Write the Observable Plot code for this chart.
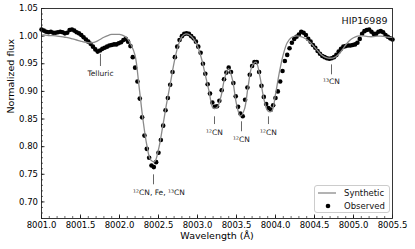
<!DOCTYPE html>
<html>
<head>
<meta charset="utf-8">
<script src="https://cdn.jsdelivr.net/npm/d3@7"></script>
<script src="https://cdn.jsdelivr.net/npm/@observablehq/plot@0.6"></script>
<style>
  html, body { margin: 0; padding: 0; background: white; }
  #wrap { position: relative; width: 415px; height: 249px; font-family: "DejaVu Sans", sans-serif; }
  #legend { position: absolute; left: 314px; top: 185px; width: 74px; height: 26px; border: 1px solid #cccccc; border-radius: 3px; background: rgba(255,255,255,0.85); font-size: 8.5px; color: #111; }
  #legend .row { position: absolute; left: 0; height: 12px; width: 74px; }
  #legend .sym { position: absolute; left: 3px; width: 18px; height: 12px; }
  #legend .lab { position: absolute; left: 29px; top: 0; line-height: 12px; }
</style>
</head>
<body>
<div id="wrap"></div>
<script>
// ---- data ----
const obsStart = 8001.0;
const obsStep = 0.03;
const observedFlux = [
 1.012,1.010,1.008,1.007,1.008,1.006,1.006,1.007,1.008,1.007,
 1.005,1.006,1.011,1.012,1.010,1.007,1.005,1.002,0.998,0.994,
 0.990,0.986,0.981,0.976,0.972,0.974,0.977,0.979,0.981,0.983,
 0.984,0.985,0.985,0.987,0.989,0.993,0.995,0.990,0.982,0.962,
 0.943,0.918,0.887,0.853,0.820,0.796,0.780,0.766,0.763,0.772,
 0.789,0.812,0.838,0.866,0.888,0.912,0.935,0.962,0.981,0.993,
 1.000,1.004,1.005,1.004,1.000,0.996,0.990,0.981,0.970,0.950,
 0.932,0.913,0.896,0.880,0.872,0.873,0.883,0.902,0.922,0.934,
 0.943,0.935,0.915,0.891,0.872,0.860,0.855,0.885,0.907,0.930,
 0.946,0.953,0.953,0.935,0.910,0.890,0.877,0.870,0.867,0.875,
 0.888,0.900,0.918,0.937,0.955,0.966,0.978,0.988,0.995,0.999,
 1.003,1.008,1.006,1.002,0.995,0.990,0.984,0.979,0.973,0.968,
 0.964,0.962,0.960,0.959,0.960,0.962,0.966,0.972,0.977,0.981,
 0.982,0.983,0.983,0.984,0.985,0.988,0.995,1.004,1.009,1.011,
 1.012,1.008,1.004,1.004,1.008,1.009,1.007,1.002,0.999,0.996,
 0.994
];
const synStart = 8001.0;
const synStep = 0.05;
const syntheticFlux = [
 1.002,1.002,1.001,1.001,1.000,0.999,0.998,0.997,0.995,0.993,
 0.991,0.989,0.988,0.988,0.990,0.994,0.998,1.001,1.003,1.003,
 1.003,1.001,0.996,0.984,0.965,0.910,0.850,0.803,0.776,0.773,
 0.795,0.833,0.875,0.913,0.952,0.982,0.999,1.004,1.002,0.995,
 0.982,0.960,0.930,0.899,0.870,0.871,0.890,0.925,0.941,0.920,
 0.877,0.855,0.867,0.910,0.946,0.953,0.927,0.887,0.865,0.864,
 0.895,0.935,0.967,0.988,0.997,1.000,1.000,0.998,0.994,0.988,
 0.980,0.972,0.965,0.961,0.960,0.961,0.966,0.974,0.984,0.992,
 0.997,1.000,1.001,1.000,0.999,0.999,1.000,1.000,0.999,0.998,
 0.998
];
const xTicks = [8001.0, 8001.5, 8002.0, 8002.5, 8003.0, 8003.5, 8004.0, 8004.5, 8005.0, 8005.5];
const yTicks = [0.70, 0.75, 0.80, 0.85, 0.90, 0.95, 1.00, 1.05];
const annLabels = ["Telluric", "¹²CN, Fe, ¹³CN", "¹²CN", "¹²CN", "¹²CN", "¹³CN"];
const annX      = [8001.756, 8002.436, 8003.218, 8003.564, 8003.910, 8004.718];
const annTextX  = [8001.756, 8002.506, 8003.218, 8003.564, 8003.910, 8004.718];
const annTop    = [0.967, 0.749, 0.854, 0.845, 0.854, 0.948];
const annBottom = [0.945, 0.731, 0.840, 0.827, 0.840, 0.930];
const annTextY  = [0.932, 0.716, 0.825, 0.812, 0.825, 0.918];
const starName = "HIP16989";
const xLabel = "Wavelength (Å)";
const yLabel = "Normalized flux";

// ---- tables ----
const observed = observedFlux.map((f, i) => ({w: obsStart + i * obsStep, f}));
const synthetic = syntheticFlux.map((f, i) => ({w: synStart + i * synStep, f}));
const ann = annLabels.map((label, i) => ({label, x: annX[i], tx: annTextX[i], top: annTop[i], bottom: annBottom[i], ty: annTextY[i]}));
const xMinor = d3.range(80010, 80055.5, 1).map(d => d / 10);
const yMinor = d3.range(67, 105.5, 1).map(d => d / 100);

const chart = Plot.plot({
  width: 415, height: 249,
  marginTop: 8, marginRight: 23, marginBottom: 31, marginLeft: 41,
  style: {fontFamily: "DejaVu Sans", fontSize: "8.5px", color: "black", background: "white", overflow: "visible"},
  x: {domain: [8001.0, 8005.5]},
  y: {domain: [0.67, 1.05]},
  marks: [
    Plot.axisX(xTicks, {tickSize: 0, tickPadding: 3.5, tickFormat: d => d.toFixed(1), label: null, fontSize: 8.5}),
    Plot.axisX(xTicks, {tickSize: 3.5, dy: -3.5, fill: "none", label: null, strokeWidth: 0.8}),
    Plot.axisX(xMinor, {tickSize: 2, dy: -2, fill: "none", label: null, strokeWidth: 0.6}),
    Plot.axisY(yTicks, {tickSize: 0, tickPadding: 3.5, tickFormat: d => d.toFixed(2), label: null, fontSize: 8.5}),
    Plot.axisY(yTicks, {tickSize: 3.5, dx: 3.5, fill: "none", label: null, strokeWidth: 0.8}),
    Plot.axisY(yMinor, {tickSize: 2, dx: 2, fill: "none", label: null, strokeWidth: 0.6}),
    Plot.text([xLabel], {frameAnchor: "bottom", dy: 20, fontSize: 9.5, fill: "black"}),
    Plot.text([yLabel], {frameAnchor: "left", dx: -31, rotate: -90, fontSize: 9.5, fill: "black"}),
    Plot.dot(observed, {x: "w", y: "f", r: 2.3, fill: "black", stroke: "none"}),
    Plot.line(synthetic, {x: "w", y: "f", stroke: "#8a8a8a", strokeWidth: 1.3, curve: "catmull-rom"}),
    Plot.ruleX(ann, {x: "x", y1: "top", y2: "bottom", stroke: "#555", strokeWidth: 0.9}),
    Plot.text(ann, {x: "tx", y: "ty", text: "label", fontSize: 7.5, fill: "#222"}),
    Plot.text([starName], {frameAnchor: "top-right", dx: -5, dy: 9, fontSize: 9.5, fill: "#111"}),
    Plot.frame({stroke: "#222", strokeWidth: 0.9})
  ]
});
document.getElementById("wrap").appendChild(chart);

// legend (HTML overlay)
const legend = document.createElement("div");
legend.id = "legend";
legend.innerHTML = `
  <div class="row" style="top:1px"><svg class="sym" viewBox="0 0 18 12"><line x1="0" x2="18" y1="6" y2="6" stroke="#8a8a8a" stroke-width="1.3"/></svg><span class="lab">Synthetic</span></div>
  <div class="row" style="top:14px"><svg class="sym" viewBox="0 0 18 12"><circle cx="10" cy="6" r="2.3" fill="black"/></svg><span class="lab">Observed</span></div>`;
document.getElementById("wrap").appendChild(legend);
</script>
</body>
</html>
